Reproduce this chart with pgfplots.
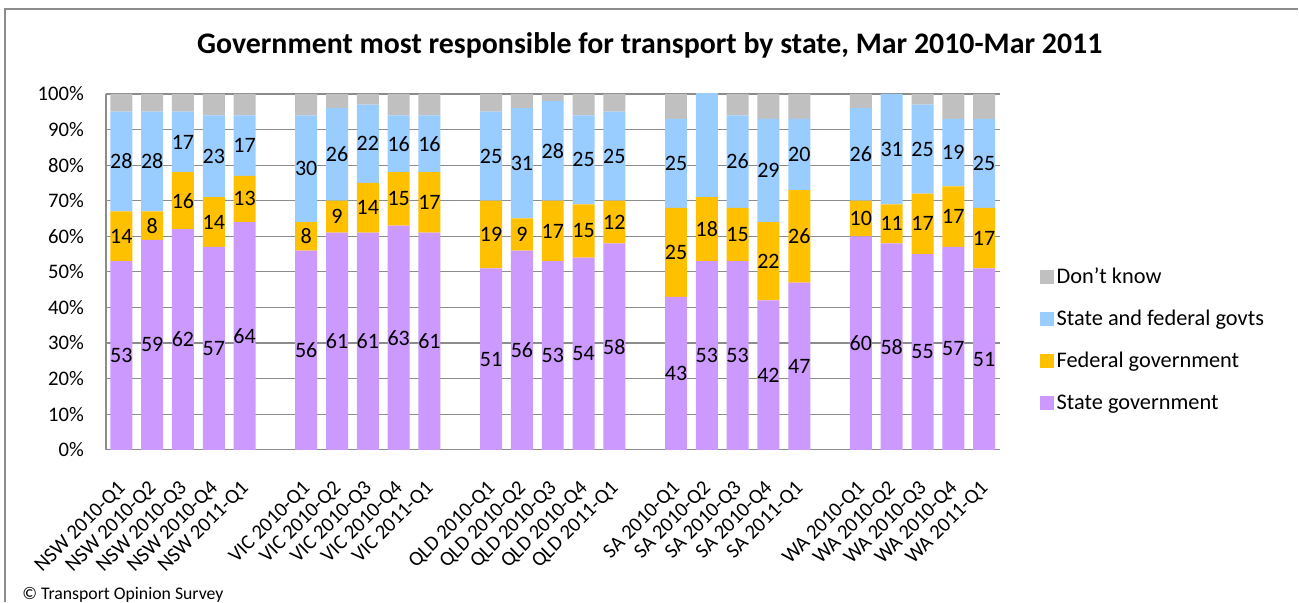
\documentclass[border=0pt]{standalone}
\usepackage{pgfplots}
\usepackage{pgfplotstable}
\pgfplotsset{compat=1.18}
\usepackage{fontspec}
\setmainfont{Carlito}
\definecolor{cState}{HTML}{CC99FF}
\definecolor{cFed}{HTML}{FFC000}
\definecolor{cBoth}{HTML}{99CCFF}
\definecolor{cDK}{HTML}{C0C0C0}
\definecolor{cGrid}{HTML}{8C8C8C}
\pgfplotstableread{
x  state fed both dk
0  53 14 28 5
1  59 8  28 5
2  62 16 17 5
3  57 14 23 6
4  64 13 17 6
6  56 8  30 6
7  61 9  26 4
8  61 14 22 3
9  63 15 16 6
10 61 17 16 6
12 51 19 25 5
13 56 9  31 4
14 53 17 28 2
15 54 15 25 6
16 58 12 25 5
18 43 25 25 7
19 53 18 30 0
20 53 15 26 6
21 42 22 29 7
22 47 26 20 7
24 60 10 26 4
25 58 11 31 0
26 55 17 25 3
27 57 17 19 7
28 51 17 25 7
}\datatable
\begin{document}
\begin{tikzpicture}
\path (0,0) rectangle (974.25pt,451.5pt);
\draw[cGrid, line width=0.9pt] (3.75pt,0pt) -- (3.75pt,444.75pt) -- (974.25pt,444.75pt);
\node[font=\fontsize{22.4}{26}\selectfont\bfseries] at (487.5pt,417.75pt) {Government most responsible for transport by state, Mar 2010-Mar 2011};
\node[font=\fontsize{13.3}{15}\selectfont, anchor=base west, inner sep=0pt] at (16.5pt,2pt) {© Transport Opinion Survey};
\begin{axis}[
  at={(79.5pt,114pt)}, anchor=south west,
  scale only axis, width=670.5pt, height=267pt,
  ybar stacked, bar width=16.5pt,
  xmin=-0.5, xmax=28.5, ymin=0, ymax=100,
  enlargelimits=false, clip=true,
  axis x line*=bottom, axis y line*=left,
  axis line style={-, cGrid, line width=0.9pt},
  ymajorgrids, grid style={cGrid, line width=0.9pt},
  major tick length=0pt,
  /pgf/number format/assume math mode=true,
  ytick={0,10,...,100},
  yticklabels={0\%,10\%,20\%,30\%,40\%,50\%,60\%,70\%,80\%,90\%,100\%},
  yticklabel style={font=\fontsize{15.5}{17}\selectfont, anchor=east, xshift=-13pt},
  xtick={0,1,2,3,4,6,7,8,9,10,12,13,14,15,16,18,19,20,21,22,24,25,26,27,28},
  xticklabels={NSW 2010-Q1,NSW 2010-Q2,NSW 2010-Q3,NSW 2010-Q4,NSW 2011-Q1,
    VIC 2010-Q1,VIC 2010-Q2,VIC 2010-Q3,VIC 2010-Q4,VIC 2011-Q1,
    QLD 2010-Q1,QLD 2010-Q2,QLD 2010-Q3,QLD 2010-Q4,QLD 2011-Q1,
    SA 2010-Q1,SA 2010-Q2,SA 2010-Q3,SA 2010-Q4,SA 2011-Q1,
    WA 2010-Q1,WA 2010-Q2,WA 2010-Q3,WA 2010-Q4,WA 2011-Q1},
  xticklabel style={font=\fontsize{15.5}{17}\selectfont, xshift=1.5pt, yshift=-26pt, rotate=45, anchor=east, inner sep=1pt},
  nodes near coords align=center,
  every node near coord/.append style={font=\fontsize{16.5}{18}\selectfont, text=black, inner sep=0pt},
  legend cell align=left,
  reverse legend,
  legend image code/.code={\fill[#1] (0pt,-5.25pt) rectangle (10.5pt,5.25pt);},
  legend style={at={(1.045,0.519)}, anchor=north west, draw=none, fill=none,
    font=\fontsize{16.75}{19}\selectfont, row sep=14.45pt, inner sep=0pt},
]
\addplot[fill=cState, draw=none, nodes near coords] table[x=x, y=state] {\datatable};
\addlegendentry{State government}
\addplot[fill=cFed, draw=none, nodes near coords] table[x=x, y=fed] {\datatable};
\addlegendentry{Federal government}
\addplot[fill=cBoth, draw=none, nodes near coords] table[x=x, y=both] {\datatable};
\addlegendentry{State and federal govts}
\addplot[fill=cDK, draw=none] table[x=x, y=dk] {\datatable};
\addlegendentry{Don't know}
\end{axis}
\end{tikzpicture}
\end{document}
